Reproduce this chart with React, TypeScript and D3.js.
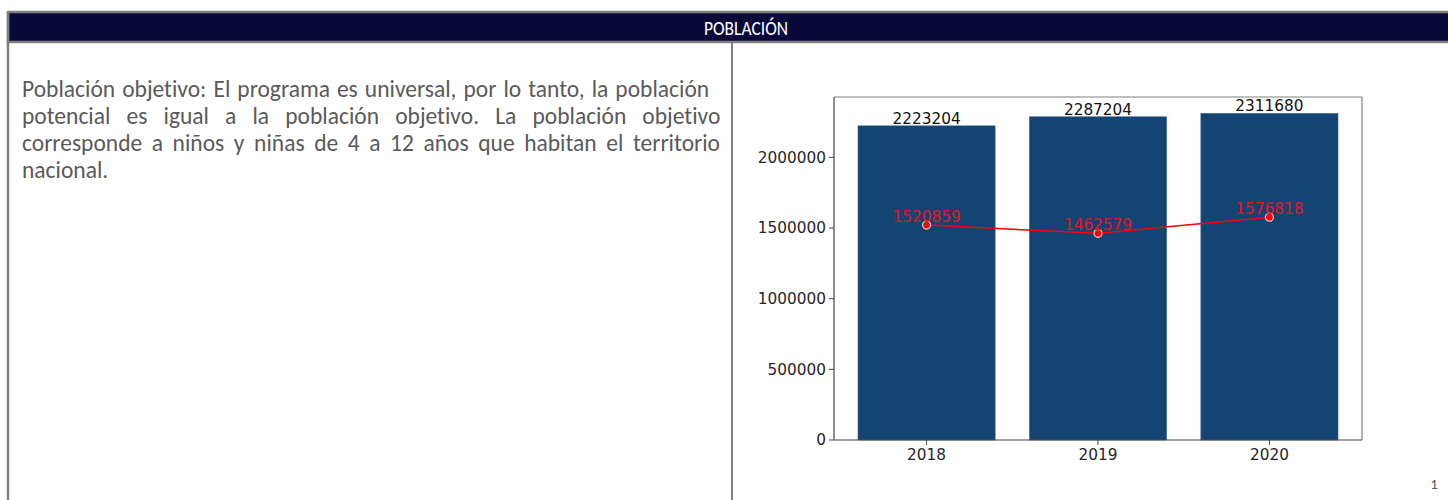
import React from "react";
import * as d3 from "d3";

const years = ["2018", "2019", "2020"];
const barValues = [2223204, 2287204, 2311680];
const lineValues = [1520859, 1462579, 1576818];
const yTicks = [0, 500000, 1000000, 1500000, 2000000];

const title = "POBLACIÓN";
const textLines = [
  "Población objetivo: El programa es universal, por lo tanto, la población",
  "potencial es igual a la población objetivo. La población objetivo",
  "corresponde a niños y niñas de 4 a 12 años que habitan el territorio",
  "nacional.",
];

const bodyFont = "Carlito, 'Liberation Sans Narrow', 'Open Sans', sans-serif";

function measure(t: string, font: string): number {
  if (typeof document === "undefined") return 0;
  const c = document.createElement("canvas").getContext("2d");
  if (!c) return 0;
  c.font = font;
  return c.measureText(t).width;
}

export default function App() {
  const W = 1448;
  const H = 500;
  const left = 834, right = 1362, top = 97, bottom = 440;
  const n = years.length;
  const x = d3.scaleLinear().domain([-0.54, n - 1 + 0.54]).range([left, right]);
  const y = d3.scaleLinear().domain([0, d3.max(barValues)! * 1.05]).range([bottom, top]);
  const line = d3.line<number>().x((_, i) => x(i)).y((v) => y(v));
  const chartFont = "'DejaVu Sans', sans-serif";
  const fs = 15.3;
  const textLeft = 22;
  const bodySize = 23.5;
  const lineRight = [709, 720, 720, 0];

  return (
    <svg width={W} height={H} style={{ position: "absolute", left: 0, top: 0, background: "#fff" }}>
      {/* frame */}
      <rect x={8} y={12} width={W} height={30} fill="#0a0a3a" stroke="#808080" strokeWidth={2.5} />
      <line x1={8} y1={12} x2={8} y2={H} stroke="#808080" strokeWidth={2.5} />
      <line x1={732} y1={42} x2={732} y2={H} stroke="#808080" strokeWidth={2} />
      <text x={746} y={35} fill="#fff" fontSize={21} fontFamily={bodyFont} textAnchor="middle"
        textLength={84} lengthAdjust="spacingAndGlyphs">{title}</text>

      {/* text */}
      {textLines.map((t, i) => {
        let ws = 0;
        if (lineRight[i]) {
          const w = measure(t, `${bodySize}px Carlito, 'Open Sans', sans-serif`);
          const spaces = t.split(" ").length - 1;
          if (w > 0 && spaces > 0) ws = (lineRight[i] - textLeft - w) / spaces;
        }
        return (
          <text key={i} x={textLeft} y={97 + i * 27} fill="#5a5a5a" fontSize={bodySize} fontFamily={bodyFont}
            style={{ wordSpacing: ws ? `${ws}px` : undefined, fontVariantLigatures: "none" }}>{t}</text>
        );
      })}

      {/* bars */}
      {barValues.map((v, i) => (
        <rect key={i} x={x(i - 0.4)} y={y(v)} width={x(i + 0.4) - x(i - 0.4)} height={bottom - y(v)}
          fill="#134474" stroke="#3d6590" strokeWidth={0.6} />
      ))}
      {barValues.map((v, i) => (
        <text key={"bl" + i} x={x(i)} y={y(v) - 2} fontSize={fs} fontFamily={chartFont} fill="#111"
          textAnchor="middle">{v}</text>
      ))}

      {/* line */}
      <path d={line(lineValues) || ""} fill="none" stroke="#ff0000" strokeWidth={1.5} />
      {lineValues.map((v, i) => (
        <circle key={"c" + i} cx={x(i)} cy={y(v)} r={4} fill="#ff0000" stroke="#f2d0d0" strokeWidth={1.2} />
      ))}
      {lineValues.map((v, i) => (
        <text key={"ll" + i} x={x(i)} y={y(v) - 3} fontSize={fs} fontFamily={chartFont} fill="#e8141c"
          textAnchor="middle">{v}</text>
      ))}

      {/* axes */}
      <line x1={left} y1={top} x2={right} y2={top} stroke="#808080" strokeWidth={1.2} />
      <line x1={right} y1={top} x2={right} y2={bottom} stroke="#808080" strokeWidth={1.2} />
      <line x1={left} y1={top} x2={left} y2={bottom} stroke="#444" strokeWidth={1.2} />
      <line x1={left} y1={bottom} x2={right} y2={bottom} stroke="#444" strokeWidth={1.2} />
      {yTicks.map((t) => (
        <g key={t}>
          <line x1={left - 5} x2={left} y1={y(t)} y2={y(t)} stroke="#444" strokeWidth={1} />
          <text x={left - 8} y={y(t)} dy="0.35em" fontSize={fs} fontFamily={chartFont} fill="#262626"
            textAnchor="end">{t}</text>
        </g>
      ))}
      {years.map((yr, i) => (
        <g key={yr}>
          <line x1={x(i)} x2={x(i)} y1={bottom} y2={bottom + 5} stroke="#444" strokeWidth={1} />
          <text x={x(i)} y={bottom + 8} dy="0.76em" fontSize={fs} fontFamily={chartFont} fill="#262626"
            textAnchor="middle">{yr}</text>
        </g>
      ))}

      <text x={1434} y={489} fontSize={15} fontFamily={bodyFont} fill="#595959" textAnchor="middle">1</text>
    </svg>
  );
}
